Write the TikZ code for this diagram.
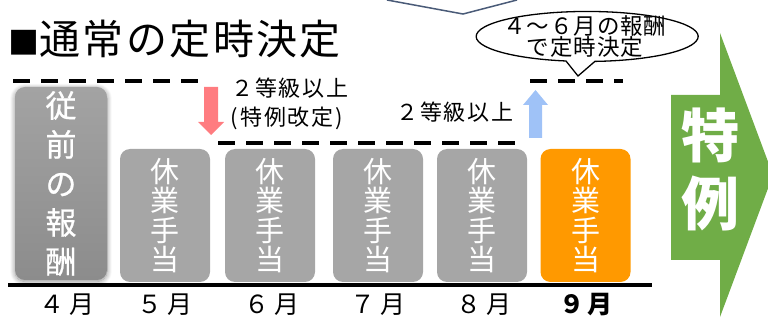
\documentclass[tikz,border=0pt]{standalone}
\usepackage{fontspec}
\setmainfont{Noto Sans CJK JP}
\usetikzlibrary{shadows.blur}
\definecolor{boxgray}{HTML}{A6A6A6}
\definecolor{prevtop}{HTML}{A3A3A3}
\definecolor{prevbot}{HTML}{8C8C8C}
\definecolor{orangebox}{HTML}{FF9900}
\definecolor{greenarrow}{HTML}{70AD47}
\definecolor{redarrow}{HTML}{FF7C80}
\definecolor{bluearrow}{HTML}{9FC2F7}
\definecolor{calloutline}{HTML}{4A5B78}
\tikzset{
  monthbox/.style={rounded corners=10pt, fill=boxgray, minimum width=90pt, minimum height=133pt,
    text=white, align=center, inner sep=0pt,
    font=\fontsize{29}{29.5}\selectfont},
  level/.style={line width=4.2pt, dash pattern=on 17pt off 11pt},
  monthlabel/.style={font=\fontsize{25}{27}\selectfont\addfontfeature{LetterSpace=18}, inner sep=0pt},
  note/.style={font=\fontsize{22}{30}\selectfont\addfontfeature{LetterSpace=9}, inner sep=0pt, align=center},
}
\begin{document}
\begin{tikzpicture}[x=1pt,y=-1pt]
\useasboundingbox (0,0) rectangle (768,320);
% title
\node[anchor=west, inner sep=0pt, font=\fontsize{41}{45}\selectfont\addfontfeature{LetterSpace=6}] (title) at (8,39) {{\fontsize{31}{31}\selectfont ■}通常の定時決定};
% callout from above (partially out of frame)
\draw[calloutline, line width=1.5pt] (387,0) -- (463,14) -- (517,0);
% speech bubble
\draw[fill=white, line width=1.3pt] (566,61) arc[start angle=101, end angle=446, x radius=111, y radius=25] -- (578,76) -- cycle;
\node[inner sep=0pt, align=center, font=\fontsize{22.5}{21}\selectfont\addfontfeature{LetterSpace=4}] (bubble) at (585,37) {４～６月の報酬\\で定時決定};
% dashed levels
\coordinate (l1a) at (13,81); \coordinate (l1b) at (205,81);
\coordinate (l2a) at (218,143); \coordinate (l2b) at (525,143);
\coordinate (l3a) at (530,81); \coordinate (l3b) at (623,81);
\draw[level] (l1a) -- (l1b);
\draw[level] (l2a) -- (l2b);
\draw[level] (l3a) -- (l3b);
% red down arrow
\fill[redarrow] (204,87) -- (218,87) -- (218,122) -- (224,122) -- (211,135) -- (198,122) -- (204,122) -- cycle;
% blue up arrow
\fill[bluearrow] (529,138) -- (542,138) -- (542,105) -- (548,105) -- (535.5,90) -- (523,105) -- (529,105) -- cycle;
% notes
\node[note] (n1) at (290,88) {２等級以上};
\node[note] (n1b) at (287,118) {(特例改定)};
\node[note] (n2) at (455,112) {２等級以上};
% previous pay box
\node[rounded corners=10pt, minimum width=92pt, minimum height=193pt, inner sep=0pt,
  top color=prevtop, bottom color=prevbot, draw=none,
  blur shadow={shadow xshift=0pt, shadow yshift=-1.5pt, shadow blur radius=5pt, shadow blur steps=10, shadow opacity=45},
  text=white, align=center, font=\fontsize{31}{39}\selectfont\addfontfeature{FakeBold=0.8}] (prev) at (61,183.5) {従\\前\\の\\報\\酬};
% month boxes
\node[monthbox] (m5) at (165,215.5) {休\\業\\手\\当};
\node[monthbox] (m6) at (270,215.5) {休\\業\\手\\当};
\node[monthbox] (m7) at (378,215.5) {休\\業\\手\\当};
\node[monthbox] (m8) at (482,215.5) {休\\業\\手\\当};
\node[monthbox, fill=orangebox] (m9) at (585.5,215.5) {休\\業\\手\\当};
% base line
\coordinate (b1) at (8,285); \coordinate (b2) at (652,285);
\draw[line width=3.5pt] (b1) -- (b2);
% month labels
\node[monthlabel] (t4) at (67,305) {４月};
\node[monthlabel] (t5) at (165,305) {５月};
\node[monthlabel] (t6) at (272,305) {６月};
\node[monthlabel] (t7) at (378,305) {７月};
\node[monthlabel] (t8) at (484,305) {８月};
\node[monthlabel, font=\fontsize{25}{27}\selectfont\bfseries\addfontfeature{LetterSpace=12}] (t9) at (586,305) {９月};
% green arrow
\fill[greenarrow] (671,95) -- (720,95) -- (720,33) -- (773,175) -- (720,317) -- (720,260) -- (671,260) -- cycle;
\node[text=white, align=center, inner sep=0pt, font=\fontsize{58}{68}\selectfont\bfseries] (tokurei) at (710,169) {特\\例};
\end{tikzpicture}
\end{document}
